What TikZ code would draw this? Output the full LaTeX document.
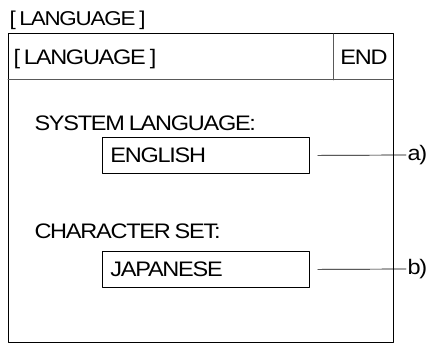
\documentclass[tikz,border=0pt]{standalone}
\usepackage{fontspec}
\setmainfont{Liberation Sans}[FakeStretch=1.12, LetterSpace=-6, WordSpace=0.75]
\tikzset{
  txt/.style={anchor=base west, inner sep=0pt},
  field/.style={draw, anchor=north west, minimum width=207pt, minimum height=36pt,
    text width=191pt, inner xsep=8pt, align=left},
  tag/.style={anchor=west, inner sep=1pt}
}
\begin{document}
\begin{tikzpicture}[x=1pt, y=-1pt, font=\fontsize{21}{21}\selectfont, line join=round, line cap=round, line width=1pt]
\useasboundingbox (0,0) rectangle (433,344);
\def\xl{8} \def\xr{393} % frame
\def\yt{34} \def\yh{80} \def\yb{342}
\node[txt, font=\fontsize{20}{20}\selectfont] (title) at (9,26) {[ LANGUAGE ]};
% screen frame
\draw (\xl,\yt) rectangle (\xr,\yb);
\draw[black!65] (\xl,\yh)--(\xr,\yh) (333,\yt)--(333,\yh);
\node[txt] (head) at (13,65) {[ LANGUAGE ]};
\node[anchor=base, inner sep=0pt] (end) at (364,65) {END};
% fields
\node[txt] (syslbl) at (34,131) {SYSTEM LANGUAGE:};
\node[field, line width=0.8pt] (sysbox) at (102,137) {ENGLISH};
\node[txt] (chrlbl) at (34,239) {CHARACTER SET:};
\node[field, line width=0.8pt] (chrbox) at (102,251) {JAPANESE};
\node[tag] (a) at (406,155) {a)};
\node[tag] (b) at (406,269) {b)};
\draw[line width=0.7pt, shorten <=8pt] (sysbox.east)--(a.west);
\draw[line width=0.7pt, shorten <=8pt] (chrbox.east)--(b.west);
\end{tikzpicture}
\end{document}
